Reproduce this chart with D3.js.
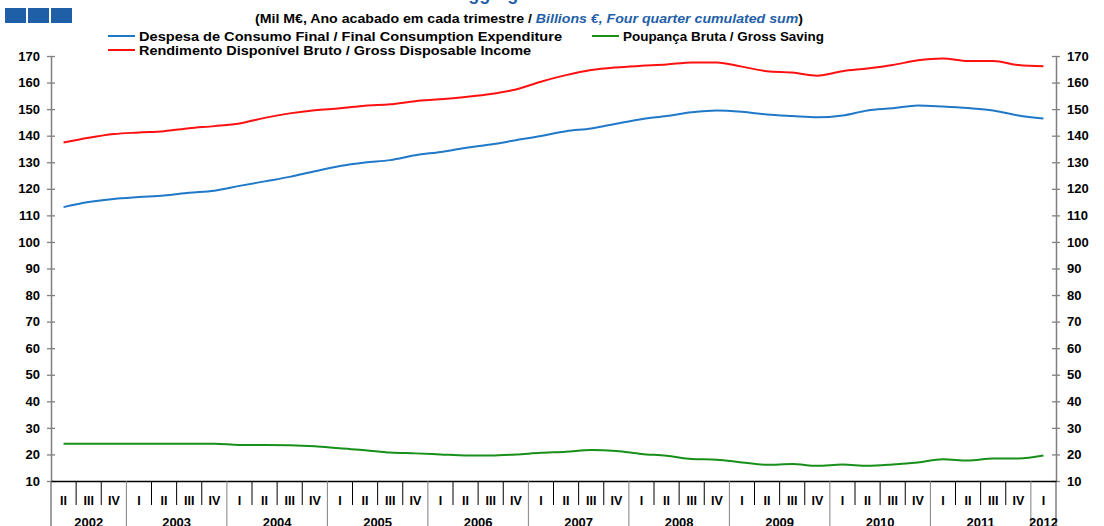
<!DOCTYPE html>
<html>
<head>
<meta charset="utf-8">
<script src="https://cdn.jsdelivr.net/npm/d3@7/dist/d3.min.js"></script>
<style>
  body { margin: 0; background: #fff; }
  text { font-family: "Liberation Sans", Arial, sans-serif; }
</style>
</head>
<body>
<div id="chart"></div>
<script>
// quarters shown on the axis: 2002 Q2 .. 2012 Q1
var years = ['2002', '2003', '2004', '2005', '2006', '2007', '2008', '2009', '2010', '2011', '2012']
var quarterNames = ['I', 'II', 'III', 'IV']
var firstQuarter = 1   // 2002 starts at II
var lastQuarter = 0    // 2012 ends at I

var consumption = [113.1, 115.0, 116.2, 116.9, 117.5, 118.5, 119.3, 121.1, 122.8, 124.5,
  126.6, 128.6, 129.9, 130.8, 132.6, 133.9, 135.4, 136.7, 138.3, 139.9,
  141.7, 142.7, 144.5, 146.2, 147.4, 148.8, 149.5, 149.0, 148.0, 147.4,
  146.9, 147.6, 149.5, 150.3, 151.4, 151.0, 150.4, 149.5, 147.6, 146.5]

var income = [137.4, 139.2, 140.6, 141.2, 141.7, 142.8, 143.6, 144.6, 146.7, 148.4,
  149.6, 150.3, 151.3, 151.8, 153.0, 153.7, 154.6, 155.7, 157.4, 160.3,
  162.8, 164.7, 165.7, 166.3, 166.8, 167.6, 167.6, 166.0, 164.3, 163.8,
  162.6, 164.3, 165.3, 166.6, 168.4, 169.1, 168.1, 168.1, 166.6, 166.1]

var saving = [24.0, 24.0, 24.0, 24.0, 24.0, 24.0, 24.0, 23.6, 23.6, 23.5,
  23.1, 22.3, 21.6, 20.7, 20.4, 20.0, 19.6, 19.6, 20.0, 20.6,
  21.0, 21.7, 21.3, 20.2, 19.5, 18.3, 18.0, 17.0, 16.1, 16.4,
  15.7, 16.2, 15.7, 16.2, 17.0, 18.2, 17.7, 18.5, 18.5, 19.6]

var yTicks = [10, 20, 30, 40, 50, 60, 70, 80, 90, 100, 110, 120, 130, 140, 150, 160, 170]

var categories = []
years.forEach(function (yr, yi) {
  var q0 = yi === 0 ? firstQuarter : 0
  var q1 = yi === years.length - 1 ? lastQuarter : 3
  for (var q = q0; q <= q1; q++) categories.push({year: yr, q: quarterNames[q], key: yr + '-' + quarterNames[q]})
})

var series = [
  {name: 'Despesa de Consumo Final / Final Consumption Expenditure', values: consumption, color: '#1f78c8'},
  {name: 'Rendimento Disponível Bruto / Gross Disposable Income', values: income, color: '#ff1010'},
  {name: 'Poupança Bruta / Gross Saving', values: saving, color: '#16901a'}
]

var W = 1104, H = 526
var plotLeft = 51, plotRight = 1056, plotTop = 56, plotBottom = 481

var svg = d3.select('#chart').append('svg')
  .attr('width', W)
  .attr('height', H)

var x = d3.scaleBand()
  .domain(categories.map(function (d) { return d.key }))
  .range([plotLeft, plotRight])
  .padding(0)

var y = d3.scaleLinear()
  .domain([10, 170])
  .range([plotBottom, plotTop])

// header: blue squares, cut-off title, subtitle
svg.selectAll('rect.sq')
  .data([0, 1, 2])
  .enter().append('rect')
  .attr('x', function (d) { return 5 + d * 23 })
  .attr('y', 8)
  .attr('width', 21)
  .attr('height', 15)
  .attr('fill', '#1f5fa8')

svg.append('text')
  .attr('x', 290)
  .attr('y', 0)
  .attr('font-size', 18)
  .attr('font-weight', 'bold')
  .attr('fill', '#1f5fa8')
  .text('Household Income Aggregates')

var sub = svg.append('text')
  .attr('x', 255)
  .attr('y', 23)
  .attr('font-size', 12.5)
  .attr('font-weight', 'bold')
  .attr('textLength', 548)
  .attr('lengthAdjust', 'spacingAndGlyphs')
sub.append('tspan').text('(Mil M€, Ano acabado em cada trimestre / ')
sub.append('tspan').attr('fill', '#1f5fa8').attr('font-style', 'italic').text('Billions  €, Four quarter cumulated sum')
sub.append('tspan').text(')')

// legend
var legendPos = [
  {x: 108, y: 36, w: 423},
  {x: 108, y: 50, w: 392},
  {x: 592, y: 36, w: 201}
]
var legend = svg.selectAll('g.legend')
  .data(series)
  .enter().append('g')
  .attr('class', 'legend')
  .attr('transform', function (d, i) { return 'translate(' + legendPos[i].x + ',' + legendPos[i].y + ')' })
legend.append('line')
  .attr('x1', 0).attr('x2', 27)
  .attr('stroke', function (d) { return d.color })
  .attr('stroke-width', 2)
legend.append('text')
  .attr('x', 31)
  .attr('dy', '0.36em')
  .attr('font-size', 12.5)
  .attr('font-weight', 'bold')
  .attr('textLength', function (d, i) { return legendPos[i].w })
  .attr('lengthAdjust', 'spacingAndGlyphs')
  .text(function (d) { return d.name })

// y axes (left and right)
function styleYAxis (g, side) {
  g.select('.domain').attr('stroke', '#808080').attr('stroke-width', 1.5)
  g.selectAll('.tick line').attr('x1', -4).attr('x2', 4).attr('stroke', '#808080').attr('stroke-width', 1.3)
  g.selectAll('.tick text')
    .attr('font-size', 13)
    .attr('font-weight', 'bold')
    .attr('font-family', '"Liberation Sans", Arial, sans-serif')
    .attr('fill', '#000')
    .attr('x', side === 'left' ? -11 : 11)
}

svg.append('g')
  .attr('transform', 'translate(' + plotLeft + ',0)')
  .call(d3.axisLeft(y).tickValues(yTicks).tickSizeOuter(0))
  .call(styleYAxis, 'left')

svg.append('g')
  .attr('transform', 'translate(' + plotRight + ',0)')
  .call(d3.axisRight(y).tickValues(yTicks).tickSizeOuter(0))
  .call(styleYAxis, 'right')

// axis lines extending down into the category area
svg.selectAll('line.vext')
  .data([plotLeft, plotRight])
  .enter().append('line')
  .attr('x1', function (d) { return d }).attr('x2', function (d) { return d })
  .attr('y1', plotBottom).attr('y2', H)
  .attr('stroke', '#808080').attr('stroke-width', 1.5)

// x axis: quarter labels
var xAxis = svg.append('g')
  .attr('transform', 'translate(0,' + plotBottom + ')')
  .call(d3.axisBottom(x).tickSize(0).tickFormat(function (k) { return k.split('-')[1] }))
xAxis.select('.domain').attr('stroke', '#000').attr('stroke-width', 1.3)
xAxis.selectAll('.tick text')
  .attr('y', 15)
  .attr('font-size', 12.5)
  .attr('font-weight', 'bold')
  .attr('font-family', '"Liberation Sans", Arial, sans-serif')
  .attr('fill', '#000')

// separators between quarters (longer at year boundaries)
svg.selectAll('line.sep')
  .data(categories.slice(1))
  .enter().append('line')
  .attr('x1', function (d) { return x(d.key) })
  .attr('x2', function (d) { return x(d.key) })
  .attr('y1', plotBottom)
  .attr('y2', function (d) { return d.q === 'I' ? H : plotBottom + 24 })
  .attr('stroke', function (d) { return d.q === 'I' ? '#808080' : '#000' })
  .attr('stroke-width', 1)

// year labels
svg.selectAll('text.year')
  .data(years)
  .enter().append('text')
  .attr('x', function (yr) {
    var ks = categories.filter(function (c) { return c.year === yr })
    return (x(ks[0].key) + x(ks[ks.length - 1].key) + x.bandwidth()) / 2
  })
  .attr('y', 527)
  .attr('text-anchor', 'middle')
  .attr('font-size', 13)
  .attr('font-weight', 'bold')
  .text(function (yr) { return yr })

// lines
var line = d3.line()
  .x(function (d, i) { return x(categories[i].key) + x.bandwidth() / 2 })
  .y(function (d) { return y(d) })
  .curve(d3.curveMonotoneX)

svg.selectAll('path.series')
  .data(series)
  .enter().append('path')
  .attr('class', 'series')
  .attr('d', function (d) { return line(d.values) })
  .attr('fill', 'none')
  .attr('stroke', function (d) { return d.color })
  .attr('stroke-width', 2)
</script>
</body>
</html>
